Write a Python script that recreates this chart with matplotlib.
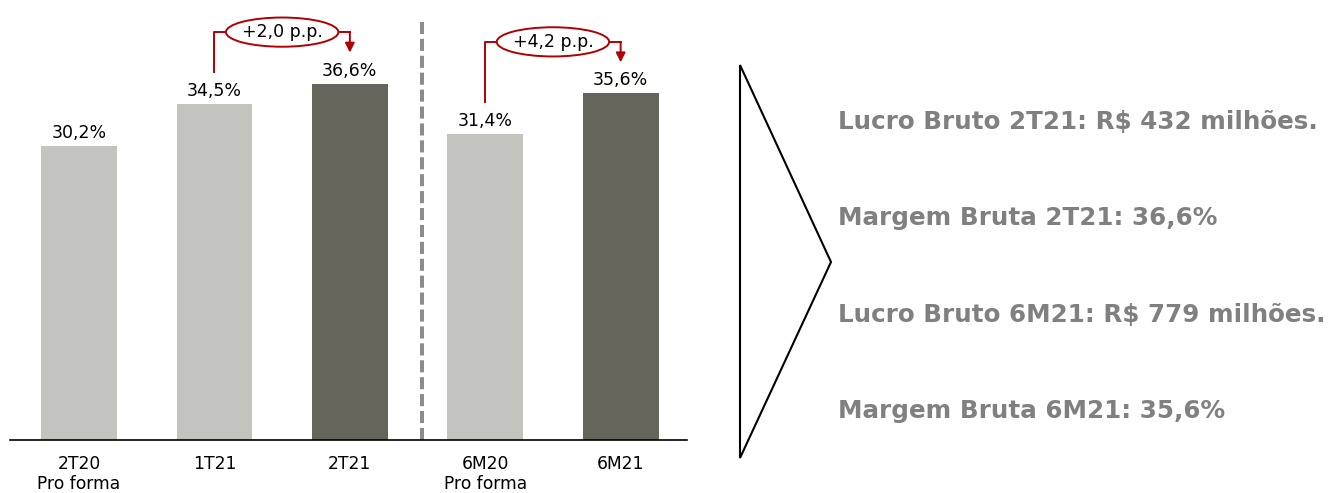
import matplotlib
matplotlib.use("Agg")
import matplotlib.pyplot as plt
from matplotlib.patches import Ellipse, Polygon

categories = ["2T20", "1T21", "2T21", "6M20", "6M21"]
sublabels = ["Pro forma", "", "", "Pro forma", ""]
margins = [30.2, 34.5, 36.6, 31.4, 35.6]
highlight = [False, False, True, False, True]
# (from index, to index, label)
changes = [(1, 2, "+2,0 p.p."), (3, 4, "+4,2 p.p.")]
bullets = [
    "Lucro Bruto 2T21: R$ 432 milhões.",
    "Margem Bruta 2T21: 36,6%",
    "Lucro Bruto 6M21: R$ 779 milhões.",
    "Margem Bruta 6M21: 35,6%",
]

light = "#C4C4BF"
dark = "#65655B"
red = "#B00000"

W, H = 1333, 493
fig = plt.figure(figsize=(W / 100, H / 100), dpi=100)

ax = fig.add_axes([10 / W, (H - 440) / H, 677 / W, 440 / H])
x = list(range(len(categories)))
colors = [dark if h else light for h in highlight]
bars = ax.bar(x, margins, width=0.56, color=colors)
for xi, v in zip(x, margins):
    ax.annotate(f"{v:.1f}%".replace(".", ","), (xi, v), xytext=(0, 3),
                textcoords="offset points", ha="center", va="bottom", fontsize=12.5)

ax.set_xlim(-0.51, 4.49)
ax.set_ylim(0, 45.2)
ax.set_xticks(x)
ax.set_xticklabels([c + ("\n" + s if s else "") for c, s in zip(categories, sublabels)],
                   fontsize=12.3, linespacing=1.15)
ax.tick_params(axis="x", length=0, pad=11)
ax.set_yticks([])
for s in ["top", "left", "right"]:
    ax.spines[s].set_visible(False)
ax.spines["bottom"].set_linewidth(1.2)

# separator
ax.plot([2.53, 2.53], [0, 42.9], color="#8C8C8C", lw=2.9, ls=(0, (3, 1.2)),
        solid_capstyle="butt", clip_on=False)

# change brackets
for a, b, lab in changes:
    top = max(margins[a], margins[b]) + 5.3
    ax.plot([a, a, b], [margins[a] + 3.3, top, top], color=red, lw=1.4, clip_on=False)
    ax.annotate("", xy=(b, margins[b] + 3.2), xytext=(b, top),
                arrowprops=dict(arrowstyle="-|>", color=red, lw=1.4,
                                mutation_scale=14, shrinkA=0, shrinkB=0))
    cx = (a + b) / 2
    ax.add_patch(Ellipse((cx, top), 0.83, 3.0, facecolor="white", edgecolor=red,
                         lw=1.4, clip_on=False, zorder=3))
    ax.text(cx, top, lab, ha="center", va="center", fontsize=12.5, zorder=4)

# right panel
ov = fig.add_axes([0, 0, 1, 1])
ov.set_xlim(0, W)
ov.set_ylim(H, 0)
ov.axis("off")
ov.add_patch(Polygon([(740, 65), (831, 262), (740, 458)], closed=True,
                     fill=False, edgecolor="black", lw=1.5))
for i, t in enumerate(bullets):
    ov.text(838, 122 + i * 96.3, t, ha="left", va="center", fontsize=17.7,
            fontweight="bold", color="#808080")

fig.savefig("out.png", dpi=100)
